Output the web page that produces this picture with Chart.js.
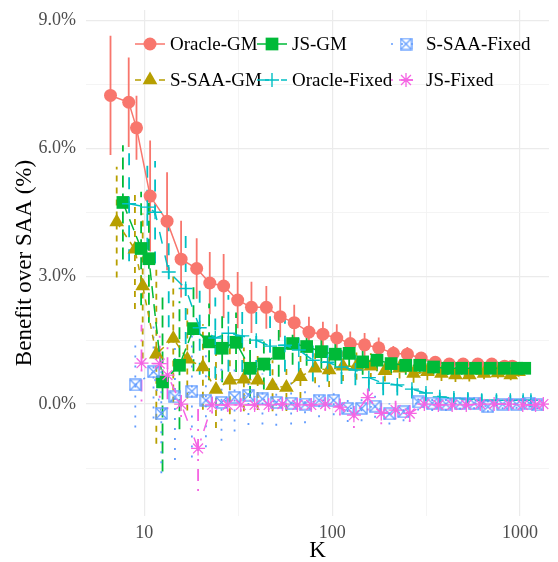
<!DOCTYPE html>
<html>
<head>
<meta charset="utf-8">
<script src="https://cdn.jsdelivr.net/npm/chart.js@4.4.1/dist/chart.umd.min.js"></script>
<style>
  html, body { margin: 0; padding: 0; background: #ffffff; }
</style>
</head>
<body>
<canvas id="benefitChart" width="558" height="562"></canvas>
<script>
// sample sizes on the log axis
const kValues = [8, 10, 11, 13, 16, 19, 23, 27, 32, 38, 45, 54, 64, 76, 91, 108, 128, 151, 180, 214, 256, 304, 360, 428, 508, 602, 721, 855, 1000, 1100];

// mean benefit over SAA (%) per method
const oracleGm = [7.24, 7.08, 6.48, 4.88, 4.29, 3.40, 3.18, 2.84, 2.77, 2.44, 2.27, 2.27, 2.05, 1.91, 1.69, 1.64, 1.55, 1.42, 1.39, 1.32, 1.19, 1.17, 1.08, 0.98, 0.94, 0.94, 0.94, 0.94, 0.89, 0.89];
const sSaaGm = [4.27, 3.63, 2.77, 1.17, 1.54, 1.05, 0.87, 0.34, 0.56, 0.58, 0.56, 0.43, 0.39, 0.64, 0.84, 0.80, 0.89, 0.89, 0.89, 0.78, 0.84, 0.72, 0.76, 0.72, 0.68, 0.68, 0.72, 0.73, 0.68, 0.76];
const jsGm = [4.73, 3.65, 3.41, 0.52, 0.91, 1.77, 1.46, 1.31, 1.45, 0.84, 0.94, 1.19, 1.42, 1.35, 1.23, 1.17, 1.19, 0.99, 1.03, 0.95, 0.91, 0.91, 0.87, 0.84, 0.84, 0.84, 0.84, 0.84, 0.84, 0.84];
const oracleFixed = [4.70, 4.62, 4.50, 3.10, 2.71, 1.79, 1.55, 1.66, 1.60, 1.50, 1.36, 1.38, 1.27, 1.03, 0.98, 0.87, 0.80, 0.62, 0.49, 0.45, 0.35, 0.26, 0.17, 0.14, 0.12, 0.09, 0.09, 0.09, 0.09, 0.09];
const sSaaFixed = [0.45, 0.76, -0.22, 0.17, 0.30, 0.09, 0.04, 0.16, 0.21, 0.12, 0.04, 0.02, 0.00, 0.09, 0.09, -0.10, -0.10, -0.05, -0.23, -0.18, 0.05, 0.02, 0.00, 0.02, 0.02, -0.06, 0.00, 0.00, 0.02, -0.02];
const jsFixed = [0.96, 0.95, 0.68, 0.00, -1.04, -0.02, -0.02, -0.02, -0.02, -0.02, 0.00, -0.02, -0.02, 0.00, -0.07, -0.26, 0.15, -0.22, -0.14, -0.22, 0.00, -0.02, -0.02, -0.02, 0.00, 0.00, 0.00, -0.02, -0.02, 0.00];

// half-width of the confidence interval (%)
const oracleGmErr = [1.40, 1.05, 0.75, 1.30, 1.15, 0.90, 0.71, 0.73, 0.75, 0.66, 0.60, 0.50, 0.48, 0.42, 0.36, 0.29, 0.32, 0.28, 0.28, 0.24, 0.17, 0.17, 0.14, 0.14, 0.12, 0.11, 0.10, 0.10, 0.09, 0.09];
const sSaaGmErr = [1.30, 1.40, 1.70, 2.10, 1.50, 1.20, 1.00, 0.90, 0.80, 0.75, 0.70, 0.60, 0.55, 0.50, 0.35, 0.40, 0.35, 0.32, 0.30, 0.25, 0.24, 0.22, 0.20, 0.18, 0.16, 0.15, 0.14, 0.13, 0.12, 0.12];
const jsGmErr = [1.34, 1.33, 1.50, 2.10, 1.50, 1.00, 0.90, 0.80, 0.70, 0.70, 0.60, 0.55, 0.50, 0.45, 0.40, 0.35, 0.32, 0.30, 0.26, 0.24, 0.22, 0.20, 0.18, 0.16, 0.15, 0.14, 0.13, 0.12, 0.11, 0.11];
const oracleFixedErr = [1.35, 1.00, 1.20, 1.30, 1.30, 1.10, 0.95, 0.90, 0.85, 0.75, 0.70, 0.62, 0.55, 0.50, 0.45, 0.40, 0.36, 0.32, 0.28, 0.25, 0.22, 0.20, 0.18, 0.16, 0.15, 0.14, 0.13, 0.12, 0.12, 0.12];
const sSaaFixedErr = [1.00, 1.10, 1.40, 1.48, 1.55, 1.10, 0.90, 0.80, 0.70, 0.60, 0.55, 0.50, 0.45, 0.40, 0.35, 0.32, 0.30, 0.27, 0.25, 0.22, 0.20, 0.18, 0.16, 0.15, 0.14, 0.13, 0.12, 0.11, 0.10, 0.10];
const jsFixedErr = [0.90, 0.80, 0.80, 0.30, 1.00, 0.20, 0.15, 0.15, 0.12, 0.12, 0.12, 0.12, 0.12, 0.15, 0.20, 0.30, 0.30, 0.25, 0.22, 0.20, 0.10, 0.08, 0.08, 0.07, 0.06, 0.06, 0.05, 0.05, 0.05, 0.05];

const seriesNames = ['Oracle-GM', 'S-SAA-GM', 'JS-GM', 'Oracle-Fixed', 'S-SAA-Fixed', 'JS-Fixed'];
const seriesValues = [oracleGm, sSaaGm, jsGm, oracleFixed, sSaaFixed, jsFixed];
const seriesErrors = [oracleGmErr, sSaaGmErr, jsGmErr, oracleFixedErr, sSaaFixedErr, jsFixedErr];

const yTicks = [-1.5, 0, 1.5, 3, 4.5, 6, 7.5, 9];
const xTicks = [10, 31.62, 100, 316.2, 1000];

const colors = ['#F8766D', '#B79F00', '#00BA38', '#00BFC4', '#619CFF', '#F564E3'];
const dashes = [[], [6, 6], [12, 6], [12, 12], [2, 8], [2, 8, 12, 8]];
const dodgeStep = 0.033; // log10 offset between neighbouring methods
const serif = "'Liberation Serif', 'DejaVu Serif', serif";

// open square with a cross inside
function boxCross(size, color) {
    const c = document.createElement('canvas');
    c.width = size;
    c.height = size;
    const g = c.getContext('2d');
    g.strokeStyle = color;
    g.lineWidth = 1.3;
    g.strokeRect(1, 1, size - 2, size - 2);
    g.beginPath();
    g.moveTo(1, 1); g.lineTo(size - 1, size - 1);
    g.moveTo(size - 1, 1); g.lineTo(1, size - 1);
    g.stroke();
    return c;
}

const markers = [
    { pointStyle: 'circle', pointRadius: 6.5, pointBorderWidth: 0 },
    { pointStyle: 'triangle', pointRadius: 8.5, pointBorderWidth: 0 },
    { pointStyle: 'rect', pointRadius: 9, pointBorderWidth: 0 },
    { pointStyle: 'cross', pointRadius: 7, pointBorderWidth: 1.4 },
    { pointStyle: boxCross(13, colors[4]), pointRadius: 6.5, pointBorderWidth: 0 },
    { pointStyle: 'star', pointRadius: 7, pointBorderWidth: 1.3 }
];

function dodgedX(i, j) {
    return kValues[j] * Math.pow(10, (i - 2.5) * dodgeStep);
}

const datasets = [];
seriesNames.forEach(function (name, i) {
    const vals = seriesValues[i];
    const errs = seriesErrors[i];
    const bars = [];
    vals.forEach(function (v, j) {
        const x = dodgedX(i, j);
        bars.push({ x: x, y: v - errs[j] }, { x: x, y: v + errs[j] }, { x: x, y: null });
    });
    datasets.push({
        label: name + ' interval',
        data: bars,
        borderColor: colors[i],
        borderWidth: 1.8,
        borderDash: dashes[i],
        pointRadius: 0,
        spanGaps: false,
        order: 100 - i
    });
    datasets.push(Object.assign({
        label: name,
        data: vals.map(function (v, j) { return { x: dodgedX(i, j), y: v }; }),
        borderColor: colors[i],
        backgroundColor: colors[i],
        pointBackgroundColor: colors[i],
        pointBorderColor: colors[i],
        borderWidth: 1.5,
        borderDash: dashes[i],
        tension: 0,
        order: 10 - i
    }, markers[i]));
});

// ggplot-style legend keys drawn inside the panel, two rows by three columns
const legendCols = [150, 272, 406];
const legendRows = [34, 70];
const legendKeys = {
    id: 'legendKeys',
    afterDraw(chart) {
        const ctx = chart.ctx;
        const top = chart.chartArea.top;
        ctx.save();
        seriesNames.forEach(function (name, i) {
            const ds = chart.data.datasets.find(function (d) { return d.label === name; });
            const cx = legendCols[Math.floor(i / 2)];
            const cy = top + legendRows[i % 2];
            ctx.strokeStyle = ds.borderColor;
            ctx.lineWidth = ds.borderWidth;
            ctx.setLineDash(ds.borderDash);
            ctx.beginPath();
            ctx.moveTo(cx - 15, cy);
            ctx.lineTo(cx + 15, cy);
            ctx.stroke();
            ctx.setLineDash([]);
            ctx.fillStyle = ds.pointBackgroundColor;
            ctx.strokeStyle = ds.pointBorderColor;
            ctx.lineWidth = ds.pointBorderWidth;
            Chart.helpers.drawPoint(ctx, {
                pointStyle: ds.pointStyle,
                radius: ds.pointRadius,
                borderWidth: ds.pointBorderWidth,
                rotation: 0
            }, cx, cy);
            ctx.fillStyle = '#000000';
            ctx.font = '19px ' + serif;
            ctx.textBaseline = 'middle';
            ctx.textAlign = 'left';
            ctx.fillText(name, cx + 20, cy + 1);
        });
        ctx.restore();
    }
};

const ctx = document.getElementById('benefitChart').getContext('2d');
const benefitChart = new Chart(ctx, {
    type: 'line',
    data: { datasets: datasets },
    options: {
        responsive: false,
        animation: false,
        layout: { padding: { top: 10, right: 8, left: 0, bottom: 0 } },
        plugins: {
            legend: { display: false },
            tooltip: { enabled: false }
        },
        scales: {
            x: {
                type: 'logarithmic',
                min: 4.9,
                max: 1426,
                afterBuildTicks: function (scale) {
                    scale.ticks = xTicks.map(function (v) { return { value: v }; });
                },
                afterFit: function (scale) {
                    scale.height = 46;
                    scale.paddingLeft = 0;
                    scale.paddingRight = 0;
                },
                grid: {
                    drawTicks: false,
                    color: function (c) { return [10, 100, 1000].includes(c.tick.value) ? '#EBEBEB' : '#F3F3F3'; },
                    lineWidth: function (c) { return [10, 100, 1000].includes(c.tick.value) ? 1.2 : 0.9; }
                },
                border: { display: false },
                ticks: {
                    autoSkip: false,
                    maxRotation: 0,
                    padding: 6,
                    color: '#4D4D4D',
                    font: { family: serif, size: 18 },
                    callback: function (v) { return [10, 100, 1000].includes(v) ? String(v) : ''; }
                },
                title: {
                    display: true,
                    text: 'K',
                    color: '#000000',
                    font: { family: serif, size: 23, lineHeight: 1 },
                    padding: { top: 0, bottom: 0 }
                }
            },
            y: {
                type: 'linear',
                min: -2.625,
                max: 9.244,
                afterBuildTicks: function (scale) {
                    scale.ticks = yTicks.map(function (v) { return { value: v }; });
                },
                afterFit: function (scale) {
                    scale.width = 86;
                    scale.paddingTop = 0;
                    scale.paddingBottom = 0;
                },
                grid: {
                    drawTicks: false,
                    color: function (c) { return c.tick.value % 3 === 0 ? '#EBEBEB' : '#F3F3F3'; },
                    lineWidth: function (c) { return c.tick.value % 3 === 0 ? 1.2 : 0.9; }
                },
                border: { display: false },
                ticks: {
                    padding: 10,
                    color: '#4D4D4D',
                    font: { family: serif, size: 18 },
                    callback: function (v) { return v % 3 === 0 ? v.toFixed(1) + '%' : ''; }
                },
                title: {
                    display: true,
                    text: 'Benefit over SAA (%)',
                    color: '#000000',
                    font: { family: serif, size: 23, lineHeight: 1 },
                    padding: { top: 13, bottom: 0 }
                }
            }
        }
    },
    plugins: [legendKeys]
});
</script>
</body>
</html>
